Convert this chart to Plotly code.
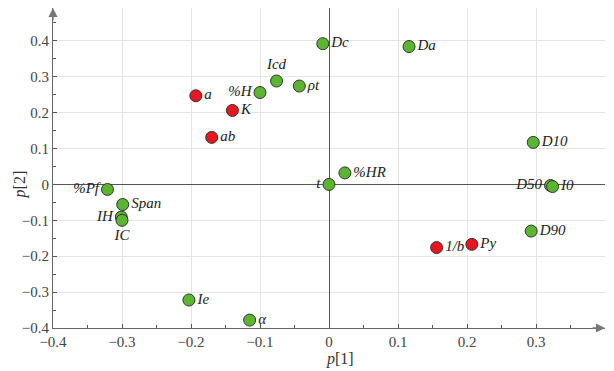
import plotly.graph_objects as go

# Green variables
green_labels = ["Dc", "Da", "Icd", "%H", "ρt", "D10", "%HR", "t", "D50", "I0", "D90",
                "%Pf", "Span", "IH", "IC", "Ie", "α"]
green_x = [-0.009, 0.116, -0.076, -0.100, -0.043, 0.296, 0.023, 0.000, 0.321, 0.324, 0.293,
           -0.321, -0.299, -0.301, -0.300, -0.203, -0.115]
green_y = [0.392, 0.384, 0.288, 0.256, 0.274, 0.117, 0.032, 0.000, -0.003, -0.006, -0.130,
           -0.014, -0.056, -0.091, -0.100, -0.322, -0.378]
green_pos = ["middle right", "middle right", "top center", "middle left", "middle right",
             "middle right", "middle right", "middle left", "middle left", "middle right",
             "middle right", "middle left", "middle right", "middle left", "bottom center",
             "middle right", "middle right"]

# Red variables
red_labels = ["a", "K", "ab", "1/b", "Py"]
red_x = [-0.193, -0.140, -0.170, 0.156, 0.207]
red_y = [0.247, 0.206, 0.131, -0.176, -0.167]
red_pos = ["middle right"] * 5

x_ticks = [-0.4, -0.3, -0.2, -0.1, 0, 0.1, 0.2, 0.3]
x_tick_text = ["−0.4", "−0.3", "−0.2", "−0.1", "0", "0.1", "0.2", "0.3"]
y_ticks = [-0.4, -0.3, -0.2, -0.1, 0, 0.1, 0.2, 0.3, 0.4]
y_tick_text = ["−0.4", "−0.3", "−0.2", "−0.1", "0", "0.1", "0.2", "0.3", "0.4"]

serif = "Liberation Serif, Times New Roman, DejaVu Serif, serif"
fig = go.Figure()

def it(lbls):
    return ["<i>%s</i>" % l for l in lbls]

fig.add_trace(go.Scatter(
    x=green_x, y=green_y, mode="markers+text", text=it(green_labels),
    textposition=green_pos,
    textfont=dict(family=serif, size=15, color="#222"),
    marker=dict(size=12, color="#5cb531", line=dict(color="#333", width=1)),
    cliponaxis=False, showlegend=False))
fig.add_trace(go.Scatter(
    x=red_x, y=red_y, mode="markers+text", text=it(red_labels),
    textposition=red_pos,
    textfont=dict(family=serif, size=15, color="#222"),
    marker=dict(size=12, color="#e8161e", line=dict(color="#333", width=1)),
    cliponaxis=False, showlegend=False))

axis_common = dict(
    showgrid=True, gridcolor="#e4e4e4", gridwidth=1,
    zeroline=True, zerolinecolor="#555", zerolinewidth=1.2,
    showline=True, linecolor="#666", linewidth=1.2,
    ticks="inside", ticklen=4, tickcolor="#555",
    tickfont=dict(family=serif, size=15, color="#444"),
    minor=dict(ticks="inside", ticklen=3, tickcolor="#555", showgrid=False),
    automargin=False,
)

fig.update_xaxes(range=[-0.4, 0.4], tickvals=x_ticks, ticktext=x_tick_text,
                 minor_dtick=0.05, **axis_common)
fig.update_yaxes(range=[-0.4, 0.4914], tickvals=y_ticks, ticktext=y_tick_text,
                 minor_dtick=0.05, **axis_common)

fig.update_layout(
    width=606, height=363,
    margin=dict(l=45, r=9, t=0, b=43),
    plot_bgcolor="white", paper_bgcolor="white",
    annotations=[
        dict(x=0.4, y=-0.4, xref="x", yref="y", ax=-14, ay=0, showarrow=True,
             arrowhead=2, arrowsize=1.4, arrowwidth=1.3, arrowcolor="#777", text=""),
        dict(x=-0.4, y=0.4914, xref="x", yref="y", ax=0, ay=14, showarrow=True,
             arrowhead=2, arrowsize=1.4, arrowwidth=1.3, arrowcolor="#777", text=""),
        dict(x=0.016, y=-0.4, xref="x", yref="y", yshift=-31, showarrow=False,
             text="<i>p</i>[1]", font=dict(family=serif, size=16, color="#333")),
        dict(x=-0.4, y=0.0, xref="x", yref="y", xshift=-33, showarrow=False,
             text="<i>p</i>[2]", textangle=-90, font=dict(family=serif, size=16, color="#333")),
    ],
)

fig.write_html("out.html")
